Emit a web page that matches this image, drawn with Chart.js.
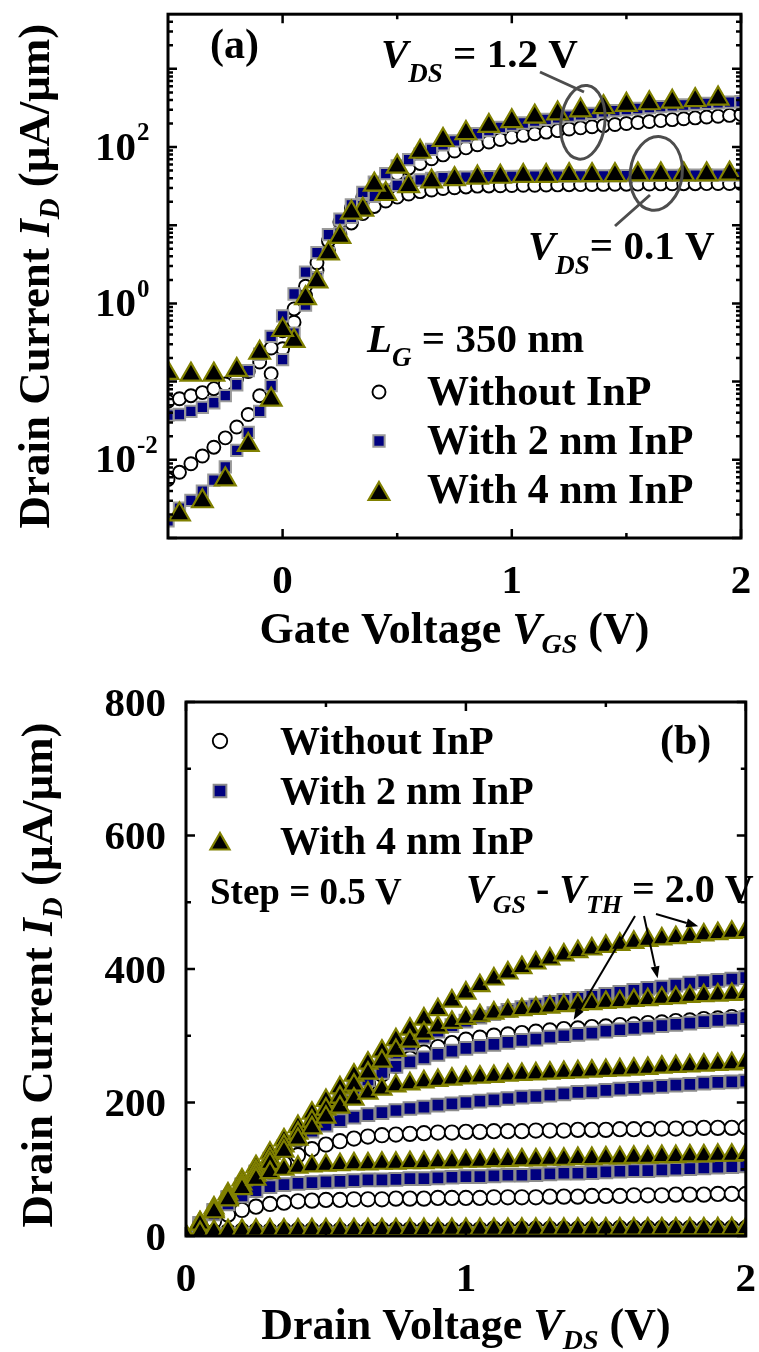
<!DOCTYPE html>
<html>
<head>
<meta charset="UTF-8">
<title>InP cap layer: transfer and output curves</title>
<script src="https://cdn.jsdelivr.net/npm/chart.js"></script>
<style>
  body { margin: 0; background: #fff; }
  #wrap { position: relative; width: 759px; height: 1352px; }
  #chartA { position: absolute; left: 0; top: 0; }
  #chartB { position: absolute; left: 0; top: 660px; }
</style>
</head>
<body>
<div id="wrap">
  <canvas id="chartA" width="759" height="660"></canvas>
  <canvas id="chartB" width="759" height="692"></canvas>
</div>
<script>
// ---------- (a) transfer curves, I_D vs V_GS (log) ----------
const vgs = [-0.5,-0.45,-0.4,-0.35,-0.3,-0.25,-0.2,-0.15,-0.1,-0.05,0,0.05,0.1,0.15,0.2,0.25,0.3,0.35,0.4,0.45,0.5,0.55,0.6,0.65,0.7,0.75,0.8,0.85,0.9,0.95,1,1.05,1.1,1.15,1.2,1.25,1.3,1.35,1.4,1.45,1.5,1.55,1.6,1.65,1.7,1.75,1.8,1.85,1.9,1.95,2];
const vgsTriHi = [-0.5,-0.4,-0.3,-0.2,-0.1,0,0.1,0.2,0.3,0.4,0.5,0.6,0.7,0.8,0.9,1,1.1,1.2,1.3,1.4,1.5,1.6,1.7,1.8,1.9];
const vgsTriLo = [-0.45,-0.35,-0.25,-0.15,-0.05,0.05,0.15,0.25,0.35,0.45,0.55,0.65,0.75,0.85,0.95,1.05,1.15,1.25,1.35,1.45,1.55,1.65,1.75,1.85,1.95];

// without InP
const noInP_12 = [0.0562,0.0603,0.0661,0.0724,0.0813,0.0933,0.110,0.135,0.178,0.269,0.447,0.851,1.66,3.31,6.31,11.0,16.6,22.9,30.2,38.0,45.7,53.7,61.7,70.8,79.4,89.1,97.7,107,116,125,134,141,148,155,162,170,176,182,188,194,200,206,212,218,224,230,236,242,248,254,260];
const noInP_01 = [0.00562,0.00692,0.00891,0.0112,0.0145,0.0191,0.0263,0.0380,0.0661,0.126,0.263,0.575,1.26,2.63,4.79,7.59,10.7,14.1,17.4,20.4,22.9,25.1,26.9,28.2,29.5,30.2,30.9,31.6,31.8,32.0,32.2,32.4,32.5,32.7,32.8,33.0,33.1,33.2,33.3,33.4,33.5,33.6,33.7,33.8,33.9,34.0,34.0,34.1,34.2,34.2,34.3];
// 2 nm InP
const inP2_12 = [0.0372,0.0380,0.0417,0.0468,0.0537,0.0661,0.0912,0.138,0.224,0.380,0.692,1.32,2.51,4.47,7.59,12.0,18.2,26.3,35.5,45.7,57.5,69.2,81.3,93.3,107,120,135,148,162,178,191,203,215,226,237,248,259,270,281,292,302,311,320,329,337,345,353,361,368,375,382];
const inP2_01 = [0.00166,0.00240,0.00302,0.00398,0.00550,0.00813,0.0132,0.0224,0.0417,0.0891,0.191,0.417,0.955,2.14,4.37,7.94,12.6,17.8,23.4,28.2,32.4,35.5,38.0,39.8,40.7,41.0,41.3,41.5,41.7,41.9,42.0,42.2,42.3,42.4,42.5,42.6,42.7,42.8,42.9,43.0,43.1,43.2,43.3,43.4,43.5,43.5,43.6,43.7,43.7,43.8,43.8];
// 4 nm InP
const inP4_12 = [0.129,0.123,0.123,0.141,0.234,0.457,1.17,4.37,14.5,33.1,56.2,87.1,123,151,186,214,245,269,295,324,347,363,380,398,417];
const inP4_01 = [0.00200,0.00295,0.00562,0.0155,0.0589,0.331,1.91,7.08,15.8,25.1,31.6,36.3,38.9,40.7,41.7,42.7,42.7,43.7,43.7,43.7,44.7,44.7,44.7,44.7,45.7];

const xTicksA = [0, 1, 2];
const yExpA = [-2, 0, 2];

// ---------- (b) output curves, I_D vs V_DS ----------
const vds = [0,0.05,0.1,0.15,0.2,0.25,0.3,0.35,0.4,0.45,0.5,0.55,0.6,0.65,0.7,0.75,0.8,0.85,0.9,0.95,1,1.05,1.1,1.15,1.2,1.25,1.3,1.35,1.4,1.45,1.5,1.55,1.6,1.65,1.7,1.75,1.8,1.85,1.9,1.95,2];

const noInP_b00 = [0,0.6,0.9,1.0,1.1,1.1,1.2,1.2,1.2,1.3,1.3,1.3,1.3,1.4,1.4,1.4,1.4,1.5,1.5,1.5,1.5,1.5,1.6,1.6,1.6,1.6,1.6,1.7,1.7,1.7,1.7,1.7,1.8,1.8,1.8,1.8,1.8,1.9,1.9,1.9,2.0];
const noInP_b05 = [0,4,6,7,8,8,8,9,9,9,9,9,9,10,10,10,10,10,10,10,10,10,11,11,11,11,11,11,11,11,11,12,12,12,12,12,12,12,12,12,12];
const noInP_b10 = [0,11,22,32,39,44,48,50,52,53,54,54,55,55,55,56,56,56,57,57,57,57,58,58,58,58,59,59,59,60,60,60,61,61,61,62,62,62,63,63,63];
const noInP_b15 = [0,16,33,49,65,81,96,109,121,130,137,142,146,149,151,152,153,154,155,155,156,156,157,157,157,158,158,158,159,159,159,160,160,160,161,161,161,162,162,162,163];
const noInP_b20 = [0,18,36,54,72,90,108,126,144,162,180,197,213,228,242,255,266,275,283,289,294,297,300,302,304,306,308,310,311,313,314,316,317,319,320,322,323,325,326,328,329];

const inP2_b00 = [0,1.5,2.2,2.6,2.8,3.0,3.1,3.2,3.2,3.3,3.3,3.4,3.4,3.4,3.5,3.5,3.5,3.6,3.6,3.6,3.7,3.7,3.7,3.8,3.8,3.8,3.9,3.9,3.9,4.0,4.0,4.0,4.1,4.1,4.1,4.2,4.2,4.2,4.3,4.3,4.3];
const inP2_b05 = [0,17,33,48,60,68,74,77,79,80,81,82,83,84,84,85,86,86,87,88,89,89,90,91,91,92,93,94,94,95,96,97,98,98,99,100,101,102,103,104,105];
const inP2_b10 = [0,19,38,57,76,95,113,130,145,157,166,173,178,182,185,188,191,193,196,198,200,202,204,206,208,209,211,213,215,216,218,220,221,223,224,226,227,229,230,231,232];
const inP2_b15 = [0,19,38,57,76,95,114,133,152,171,189,206,221,234,245,254,261,267,272,277,281,284,287,290,293,295,298,300,302,304,307,309,311,313,315,317,319,321,323,325,327];
const inP2_b20 = [0,19,38,57,77,96,115,134,153,172,191,209,227,244,260,274,287,298,307,315,322,328,333,338,342,346,350,353,356,359,362,365,368,371,373,376,379,381,383,385,387];

const inP4_b00 = [0,5,7,8,8.5,8.8,9.0,9.1,9.2,9.3,9.4,9.4,9.5,9.5,9.6,9.6,9.7,9.7,9.8,9.8,9.9,9.9,10.0,10.0,10.1,10.1,10.2,10.2,10.3,10.3,10.4,10.4,10.5,10.5,10.6,10.6,10.7,10.7,10.8,10.8,10.9];
const inP4_b05 = [0,18,36,54,71,85,95,100,103,105,106,107,108,108,109,109,110,110,111,111,112,112,113,113,114,114,115,115,116,116,117,117,118,118,119,119,120,120,121,121,122];
const inP4_b10 = [0,18,37,55,73,91,109,127,145,162,178,193,205,214,220,225,228,231,233,235,237,238,239,241,242,243,244,245,246,247,248,249,250,251,253,254,255,256,257,258,260];
const inP4_b15 = [0,19,39,58,78,97,116,135,154,172,190,208,226,244,262,278,292,304,313,320,326,330,334,337,339,341,343,345,347,348,350,351,353,354,356,357,359,360,361,362,363];
const inP4_b20 = [0,20,42,63,84,104,124,144,164,184,203,222,241,259,277,294,310,325,339,352,364,375,385,394,402,409,415,421,426,430,434,437,440,443,445,447,449,451,453,455,456];

const xTicksB = [0, 1, 2];
const yTicksB = [0, 200, 400, 600, 800];

// ---------- marker styles ----------
const mkCircleA = { shape: 'circle', r: 6.5, fill: '#ffffff', stroke: '#000000', lw: 1.9, order: 3 };
const mkSquareA = { shape: 'rect', r: 8, fill: '#000080', stroke: '#9a9a9a', lw: 2, order: 2 };
const mkTriA = { shape: 'triangle', r: 12, fill: '#000000', stroke: '#808000', lw: 2.2, order: 1 };
const mkCircleB = { shape: 'circle', r: 7.2, fill: '#ffffff', stroke: '#000000', lw: 1.9, order: 3 };
const mkSquareB = { shape: 'rect', r: 9, fill: '#000080', stroke: '#8c8c8c', lw: 2, order: 2 };
const mkTriB = { shape: 'triangle', r: 11, fill: '#000000', stroke: '#808000', lw: 2.2, order: 1 };

function series(xs, ys, mk) {
  return {
    data: xs.map((x, i) => ({ x: x, y: ys[i] })),
    showLine: false,
    pointStyle: mk.shape,
    pointRadius: mk.r,
    pointBackgroundColor: mk.fill,
    pointBorderColor: mk.stroke,
    pointBorderWidth: mk.lw,
    order: mk.order
  };
}

// same geometry chart.js uses for its point styles, for the legend keys
function drawMarker(ctx, mk, x, y) {
  ctx.save();
  ctx.beginPath();
  if (mk.shape === 'circle') {
    ctx.arc(x, y, mk.r, 0, Math.PI * 2);
  } else if (mk.shape === 'rect') {
    const h = mk.r * Math.SQRT1_2;
    ctx.rect(x - h, y - h, 2 * h, 2 * h);
  } else {
    ctx.moveTo(x, y - mk.r);
    ctx.lineTo(x + 0.866 * mk.r, y + 0.5 * mk.r);
    ctx.lineTo(x - 0.866 * mk.r, y + 0.5 * mk.r);
    ctx.closePath();
  }
  ctx.fillStyle = mk.fill;
  ctx.fill();
  ctx.lineWidth = mk.lw;
  ctx.strokeStyle = mk.stroke;
  ctx.stroke();
  ctx.restore();
}

const SERIF = '"Liberation Serif", "Times New Roman", Times, serif';
function fnt(size, italic) { return (italic ? 'italic ' : '') + 'bold ' + size + 'px ' + SERIF; }

// runs: [text, size, italic, dy]
function drawRuns(ctx, x, y, runs, align) {
  let w = 0;
  runs.forEach(r => { ctx.font = fnt(r[1], r[2]); w += ctx.measureText(r[0]).width; });
  let cx = align === 'center' ? x - w / 2 : (align === 'right' ? x - w : x);
  ctx.textAlign = 'left';
  ctx.textBaseline = 'alphabetic';
  ctx.fillStyle = '#000';
  runs.forEach(r => {
    ctx.font = fnt(r[1], r[2]);
    ctx.fillText(r[0], cx, y + (r[3] || 0));
    cx += ctx.measureText(r[0]).width;
  });
}

function drawBox(chart, ticks) {
  const ctx = chart.ctx, a = chart.chartArea;
  const xs = chart.scales.x, ys = chart.scales.y;
  ctx.save();
  ctx.strokeStyle = '#000';
  ctx.lineWidth = 2.5;
  ctx.beginPath();
  const tx = (v, len) => {
    const p = xs.getPixelForValue(v);
    ctx.moveTo(p, a.bottom); ctx.lineTo(p, a.bottom - len);
    ctx.moveTo(p, a.top); ctx.lineTo(p, a.top + len);
  };
  const ty = (v, len) => {
    const p = ys.getPixelForValue(v);
    ctx.moveTo(a.left, p); ctx.lineTo(a.left + len, p);
    ctx.moveTo(a.right, p); ctx.lineTo(a.right - len, p);
  };
  ticks.xMajor.forEach(v => tx(v, 9));
  ticks.xMinor.forEach(v => tx(v, 5));
  ticks.yMajor.forEach(v => ty(v, 9));
  ticks.yMinor.forEach(v => ty(v, 5));
  ctx.stroke();
  ctx.lineWidth = 3;
  ctx.strokeRect(a.left, a.top, a.right - a.left, a.bottom - a.top);
  ctx.restore();
}

function arrow(ctx, x0, y0, x1, y1) {
  const ang = Math.atan2(y1 - y0, x1 - x0);
  const L = 12, W = 4.5;
  ctx.beginPath();
  ctx.moveTo(x0, y0);
  ctx.lineTo(x1 - L * Math.cos(ang), y1 - L * Math.sin(ang));
  ctx.stroke();
  ctx.beginPath();
  ctx.moveTo(x1, y1);
  ctx.lineTo(x1 - L * Math.cos(ang) + W * Math.sin(ang), y1 - L * Math.sin(ang) - W * Math.cos(ang));
  ctx.lineTo(x1 - L * Math.cos(ang) - W * Math.sin(ang), y1 - L * Math.sin(ang) + W * Math.cos(ang));
  ctx.closePath();
  ctx.fill();
}

function baseOptions(pad, xr, yType, yr) {
  return {
    responsive: false,
    animation: false,
    events: [],
    layout: { padding: pad },
    plugins: { legend: { display: false }, tooltip: { enabled: false } },
    scales: {
      x: { type: 'linear', min: xr[0], max: xr[1], display: false },
      y: { type: yType, min: yr[0], max: yr[1], display: false }
    }
  };
}

// log axis ticks: every decade, minor at 2..9
const logMajor = [], logMinor = [];
for (let d = -3; d <= 3; d++) {
  logMajor.push(Math.pow(10, d));
  for (let m = 2; m <= 9; m++) {
    const v = m * Math.pow(10, d);
    if (v < 5000) logMinor.push(v);
  }
}

const panelA = {
  id: 'panelA',
  afterDatasetsDraw(chart) {
    const ctx = chart.ctx, a = chart.chartArea;
    const xs = chart.scales.x, ys = chart.scales.y;
    drawBox(chart, { xMajor: [0, 1, 2], xMinor: [0.5, 1.5], yMajor: logMajor, yMinor: logMinor });

    ctx.save();
    ctx.fillStyle = '#000';
    ctx.textBaseline = 'middle';
    ctx.textAlign = 'center';
    ctx.font = fnt(41);
    xTicksA.forEach(v => ctx.fillText(String(v), xs.getPixelForValue(v), 582));
    yExpA.forEach(e => {
      const py = ys.getPixelForValue(Math.pow(10, e));
      ctx.textAlign = 'right';
      ctx.font = fnt(41);
      ctx.fillText('10', 136, py + 2);
      ctx.textAlign = 'left';
      ctx.font = fnt(25);
      ctx.fillText(String(e), 137, py - 13);
    });

    drawRuns(ctx, (a.left + a.right) / 2, 643,
      [['Gate Voltage ', 44], ['V', 44, true], ['GS', 28, true, 10], [' (V)', 44]], 'center');
    ctx.save();
    ctx.translate(49, (a.top + a.bottom) / 2);
    ctx.rotate(-Math.PI / 2);
    drawRuns(ctx, 0, 0, [['Drain Current ', 45], ['I', 45, true], ['D', 29, true, 10], [' (\u03bcA/\u03bcm)', 45]], 'center');
    ctx.restore();

    drawRuns(ctx, 210, 58, [['(a)', 42]], 'left');
    drawRuns(ctx, 381, 67, [['V', 41, true], ['DS', 27, true, 15], [' = 1.2 V', 41]], 'left');
    drawRuns(ctx, 528, 259, [['V', 41, true], ['DS', 27, true, 15], ['= 0.1 V', 41]], 'left');

    // circled groups with leaders
    ctx.strokeStyle = '#4d4d4d';
    ctx.lineWidth = 3;
    ctx.beginPath();
    ctx.ellipse(xs.getPixelForValue(1.31), ys.getPixelForValue(207), 22, 37, 0.12, 0, Math.PI * 2);
    ctx.stroke();
    ctx.beginPath();
    ctx.ellipse(xs.getPixelForValue(1.63), ys.getPixelForValue(46), 26, 37, 0.12, 0, Math.PI * 2);
    ctx.stroke();
    ctx.beginPath();
    ctx.moveTo(540, 72); ctx.lineTo(584, 92);
    ctx.moveTo(615, 226); ctx.lineTo(650, 195);
    ctx.stroke();

    // legend
    drawRuns(ctx, 367, 352, [['L', 41, true], ['G', 27, true, 14], [' = 350 nm', 41]], 'left');
    drawMarker(ctx, mkCircleA, 379, 392);
    drawMarker(ctx, mkSquareA, 379, 441);
    drawMarker(ctx, mkTriA, 379, 494);
    drawRuns(ctx, 427, 405, [['Without InP', 42]], 'left');
    drawRuns(ctx, 427, 454, [['With 2 nm InP', 42]], 'left');
    drawRuns(ctx, 427, 503, [['With 4 nm InP', 42]], 'left');
    ctx.restore();
  }
};

const panelB = {
  id: 'panelB',
  afterDatasetsDraw(chart) {
    const ctx = chart.ctx, a = chart.chartArea;
    const xs = chart.scales.x, ys = chart.scales.y;
    drawBox(chart, { xMajor: [0, 1, 2], xMinor: [0.5, 1.5], yMajor: yTicksB, yMinor: [100, 300, 500, 700] });

    ctx.save();
    ctx.fillStyle = '#000';
    ctx.textBaseline = 'middle';
    ctx.font = fnt(41);
    ctx.textAlign = 'center';
    xTicksB.forEach(v => ctx.fillText(String(v), xs.getPixelForValue(v), 620));
    ctx.textAlign = 'right';
    yTicksB.forEach(v => ctx.fillText(String(v), 166, ys.getPixelForValue(v) + 3));

    drawRuns(ctx, (a.left + a.right) / 2, 679,
      [['Drain Voltage ', 44], ['V', 44, true], ['DS', 28, true, 10], [' (V)', 44]], 'center');
    ctx.save();
    ctx.translate(52, (a.top + a.bottom) / 2 + 6);
    ctx.rotate(-Math.PI / 2);
    drawRuns(ctx, 0, 0, [['Drain Current ', 45], ['I', 45, true], ['D', 29, true, 10], [' (\u03bcA/\u03bcm)', 45]], 'center');
    ctx.restore();

    // legend
    drawMarker(ctx, mkCircleB, 220, 81);
    drawMarker(ctx, mkSquareB, 220, 131);
    drawMarker(ctx, mkTriB, 220, 184);
    drawRuns(ctx, 280, 94, [['Without InP', 40]], 'left');
    drawRuns(ctx, 280, 144, [['With 2 nm InP', 40]], 'left');
    drawRuns(ctx, 280, 194, [['With 4 nm InP', 40]], 'left');
    drawRuns(ctx, 660, 94, [['(b)', 42]], 'left');
    drawRuns(ctx, 210, 244, [['Step = 0.5 V', 37]], 'left');
    drawRuns(ctx, 466, 242, [['V', 40, true], ['GS', 26, true, 11], [' - ', 40], ['V', 40, true], ['TH', 26, true, 11], [' = 2.0 V', 40]], 'left');

    // arrows to the top curve of each device
    ctx.strokeStyle = '#000';
    ctx.fillStyle = '#000';
    ctx.lineWidth = 2;
    arrow(ctx, 635, 256, xs.getPixelForValue(1.385), ys.getPixelForValue(324));
    arrow(ctx, 644, 256, xs.getPixelForValue(1.685), ys.getPixelForValue(386));
    arrow(ctx, 656, 254, xs.getPixelForValue(1.83), ys.getPixelForValue(464));
    ctx.restore();
  }
};

new Chart(document.getElementById('chartA'), {
  type: 'scatter',
  data: {
    datasets: [
      series(vgs, noInP_12, mkCircleA),
      series(vgs, noInP_01, mkCircleA),
      series(vgs, inP2_12, mkSquareA),
      series(vgs, inP2_01, mkSquareA),
      series(vgsTriHi, inP4_12, mkTriA),
      series(vgsTriLo, inP4_01, mkTriA)
    ]
  },
  options: baseOptions({ left: 168, right: 18, top: 7, bottom: 122 }, [-0.5, 2], 'logarithmic', [0.001, 5000]),
  plugins: [panelA]
});

new Chart(document.getElementById('chartB'), {
  type: 'scatter',
  data: {
    datasets: [
      series(vds, noInP_b00, mkCircleB),
      series(vds, noInP_b05, mkCircleB),
      series(vds, noInP_b10, mkCircleB),
      series(vds, noInP_b15, mkCircleB),
      series(vds, noInP_b20, mkCircleB),
      series(vds, inP2_b00, mkSquareB),
      series(vds, inP2_b05, mkSquareB),
      series(vds, inP2_b10, mkSquareB),
      series(vds, inP2_b15, mkSquareB),
      series(vds, inP2_b20, mkSquareB),
      series(vds, inP4_b00, mkTriB),
      series(vds, inP4_b05, mkTriB),
      series(vds, inP4_b10, mkTriB),
      series(vds, inP4_b15, mkTriB),
      series(vds, inP4_b20, mkTriB)
    ]
  },
  options: baseOptions({ left: 186, right: 6, top: 42, bottom: 116 }, [0, 2], 'linear', [0, 800]),
  plugins: [panelB]
});
</script>
</body>
</html>
